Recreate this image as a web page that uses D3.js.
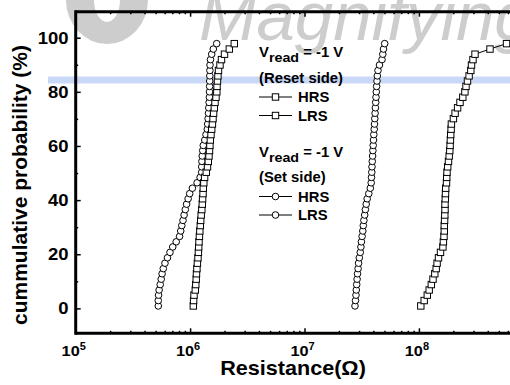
<!DOCTYPE html>
<html>
<head>
<meta charset="utf-8">
<script src="https://cdn.jsdelivr.net/npm/d3@7/dist/d3.min.js"></script>
<style>
  body { margin: 0; background: #fff; }
  svg { display: block; }
  text { font-family: "Liberation Sans", Arial, sans-serif; font-weight: bold; fill: #000; }
</style>
</head>
<body>
<div id="chart"></div>
<script>
// cumulative probability (%) of each ranked point, shared by all four series
const prob = [0.9, 2.9, 4.9, 6.8, 8.8, 10.8, 12.8, 14.7, 16.7, 18.7,
  20.7, 22.7, 24.6, 26.6, 28.6, 30.6, 32.5, 34.5, 36.5, 38.5,
  40.5, 42.4, 44.4, 46.4, 48.4, 50.3, 52.3, 54.3, 56.3, 58.3,
  60.2, 62.2, 64.2, 66.2, 68.1, 70.1, 72.1, 74.1, 76.1, 78.0,
  80.0, 82.0, 84.0, 85.9, 87.9, 89.9, 91.9, 93.9, 95.8, 97.8];

// resistance (ohm), read at -1 V
const setLRS = [0.527e6, 0.527e6, 0.530e6, 0.536e6, 0.548e6, 0.559e6, 0.569e6, 0.583e6, 0.603e6, 0.634e6,
  0.667e6, 0.705e6, 0.756e6, 0.809e6, 0.828e6, 0.846e6, 0.867e6, 0.886e6, 0.908e6, 0.932e6,
  0.961e6, 0.992e6, 1.047e6, 1.151e6, 1.223e6, 1.263e6, 1.263e6, 1.268e6, 1.276e6, 1.289e6,
  1.304e6, 1.344e6, 1.377e6, 1.414e6, 1.425e6, 1.437e6, 1.448e6, 1.457e6, 1.466e6, 1.475e6,
  1.478e6, 1.481e6, 1.484e6, 1.487e6, 1.490e6, 1.493e6, 1.508e6, 1.545e6, 1.595e6, 1.708e6];
const resetLRS = [1.067e6, 1.073e6, 1.082e6, 1.110e6, 1.121e6, 1.131e6, 1.137e6, 1.147e6, 1.158e6, 1.172e6,
  1.182e6, 1.189e6, 1.196e6, 1.206e6, 1.216e6, 1.228e6, 1.238e6, 1.250e6, 1.266e6, 1.278e6,
  1.286e6, 1.297e6, 1.304e6, 1.318e6, 1.339e6, 1.385e6, 1.419e6, 1.442e6, 1.463e6, 1.478e6,
  1.490e6, 1.502e6, 1.523e6, 1.545e6, 1.567e6, 1.586e6, 1.605e6, 1.628e6, 1.651e6, 1.684e6,
  1.712e6, 1.719e6, 1.735e6, 1.751e6, 1.771e6, 1.825e6, 1.881e6, 1.998e6, 2.202e6, 2.434e6];
const setHRS = [2.763e7, 2.791e7, 2.819e7, 2.836e7, 2.859e7, 2.882e7, 2.906e7, 2.941e7, 2.970e7, 3.013e7,
  3.074e7, 3.112e7, 3.143e7, 3.188e7, 3.233e7, 3.266e7, 3.305e7, 3.359e7, 3.406e7, 3.462e7,
  3.532e7, 3.648e7, 3.760e7, 3.828e7, 3.851e7, 3.874e7, 3.890e7, 3.913e7, 3.937e7, 3.961e7,
  3.985e7, 4.009e7, 4.034e7, 4.067e7, 4.091e7, 4.116e7, 4.141e7, 4.166e7, 4.192e7, 4.217e7,
  4.243e7, 4.268e7, 4.303e7, 4.330e7, 4.390e7, 4.523e7, 4.758e7, 4.835e7, 4.903e7, 5.023e7];
const resetHRS = [1.039e8, 1.112e8, 1.184e8, 1.230e8, 1.284e8, 1.328e8, 1.377e8, 1.416e8, 1.442e8, 1.484e8,
  1.545e8, 1.621e8, 1.637e8, 1.657e8, 1.667e8, 1.667e8, 1.677e8, 1.684e8, 1.691e8, 1.691e8,
  1.701e8, 1.708e8, 1.715e8, 1.743e8, 1.750e8, 1.760e8, 1.785e8, 1.814e8, 1.840e8, 1.862e8,
  1.874e8, 1.885e8, 1.897e8, 1.912e8, 1.923e8, 2.002e8, 2.072e8, 2.179e8, 2.287e8, 2.420e8,
  2.524e8, 2.580e8, 2.659e8, 2.747e8, 2.843e8, 2.883e8, 2.970e8, 3.094e8, 4.183e8, 5.832e8];

const xTicks = [1e5, 1e6, 1e7, 1e8, 1e9];
const xTickExp = ["5", "6", "7", "8", "9"];
const yTicks = [0, 20, 40, 60, 80, 100];
const yMinor = [10, 30, 50, 70, 90];

const legendReset = ["HRS", "LRS"];
const legendSet = ["HRS", "LRS"];

const width = 510, height = 385;

const svg = d3.select("#chart").append("svg")
  .attr("width", width)
  .attr("height", height);

svg.append("rect").attr("width", width).attr("height", height).attr("fill", "#fff");

const x = d3.scaleLog().domain([1e5, 1e9]).range([75.7, 533.3]);
const y = d3.scaleLinear().domain([-9.2, 109.6]).range([333.3, 11.7]);

// watermark (part of the source image)
const wm = svg.append("g");
wm.append("path")
  .attr("d", "M66,0 A41,44 0 0 0 148,0 Z M94,0 A13,22 0 0 0 120,0 Z")
  .attr("fill", "#cdcdcd")
  .attr("fill-rule", "evenodd");
wm.append("text")
  .attr("x", 199).attr("y", 40)
  .attr("font-size", 69)
  .style("font-weight", "normal")
  .style("font-style", "italic")
  .style("fill", "#cdcdcd")
  .text("Magnifying");
wm.append("rect")
  .attr("x", 48).attr("y", 76.5)
  .attr("width", width - 48).attr("height", 7)
  .attr("fill", "#c9d8f6");

function label(g, px, py, str, size, anchor, sx) {
  return g.append("text")
    .attr("transform", "translate(" + px + "," + py + ") scale(" + (sx || 1) + ",1)")
    .attr("font-size", size)
    .attr("text-anchor", anchor || "start")
    .text(str);
}

// minor ticks on log axis
const minors = [];
for (let d = 5; d < 9; d++) {
  for (let m = 2; m <= 9; m++) minors.push(m * Math.pow(10, d));
}

const axes = svg.append("g");

// bottom axis
axes.append("g")
  .attr("transform", "translate(0," + y.range()[0] + ")")
  .call(d3.axisBottom(x).tickValues(minors).tickSize(-2.5).tickFormat(""))
  .call(g => g.select(".domain").remove());
axes.append("g")
  .attr("transform", "translate(0," + y.range()[0] + ")")
  .call(d3.axisBottom(x).tickValues(xTicks).tickSize(-5).tickFormat(""))
  .call(g => g.select(".domain").remove());
// top axis
axes.append("g")
  .attr("transform", "translate(0," + y.range()[1] + ")")
  .call(d3.axisTop(x).tickValues(minors).tickSize(-2.5).tickFormat(""))
  .call(g => g.select(".domain").remove());
axes.append("g")
  .attr("transform", "translate(0," + y.range()[1] + ")")
  .call(d3.axisTop(x).tickValues(xTicks).tickSize(-5).tickFormat(""))
  .call(g => g.select(".domain").remove());
// left axis
axes.append("g")
  .attr("transform", "translate(" + x.range()[0] + ",0)")
  .call(d3.axisLeft(y).tickValues(yTicks).tickSize(-5).tickFormat(""))
  .call(g => g.select(".domain").remove());
axes.append("g")
  .attr("transform", "translate(" + x.range()[0] + ",0)")
  .call(d3.axisLeft(y).tickValues(yMinor).tickSize(-2.5).tickFormat(""))
  .call(g => g.select(".domain").remove());
axes.selectAll(".tick line").attr("stroke", "#000").attr("stroke-width", 1.5);

// frame lines
axes.append("line")
  .attr("x1", x.range()[0]).attr("x2", width + 5)
  .attr("y1", y.range()[0]).attr("y2", y.range()[0])
  .attr("stroke", "#000").attr("stroke-width", 3);
axes.append("line")
  .attr("x1", x.range()[0]).attr("x2", width + 5)
  .attr("y1", y.range()[1]).attr("y2", y.range()[1])
  .attr("stroke", "#000").attr("stroke-width", 3);
axes.append("line")
  .attr("x1", x.range()[0]).attr("x2", x.range()[0])
  .attr("y1", y.range()[1] - 1.5).attr("y2", y.range()[0] + 1.5)
  .attr("stroke", "#000").attr("stroke-width", 3);

// tick labels
xTicks.forEach((v, i) => {
  if (x(v) > width) return;
  const t = label(svg, x(v) - 2, 356, "10", 15.5, "middle", 1.05);
  t.append("tspan").attr("dy", -6).attr("font-size", 10.5).text(xTickExp[i]);
});
yTicks.forEach(v => {
  label(svg, 68.5, y(v) + 6, String(v), 16.5, "end", 1.12);
});

// axis titles
label(svg, 293, 375, "Resistance(\u03A9)", 20, "middle", 1.08);
svg.append("text")
  .attr("transform", "translate(27,185) rotate(-90)")
  .attr("font-size", 21)
  .attr("text-anchor", "middle")
  .text("cummulative probability (%)");

// data
const series = [
  { data: setLRS, shape: "circle" },
  { data: resetLRS, shape: "square" },
  { data: setHRS, shape: "circle" },
  { data: resetHRS, shape: "square" }
];

const line = d3.line()
  .x(d => x(d[0]))
  .y(d => y(d[1]));

const plot = svg.append("g");
series.forEach(s => {
  const pts = s.data.map((r, i) => [r, prob[i]]);
  plot.append("path")
    .attr("d", line(pts))
    .attr("fill", "none")
    .attr("stroke", "#000")
    .attr("stroke-width", 1);
  const g = plot.append("g");
  if (s.shape === "circle") {
    g.selectAll("circle").data(pts).enter().append("circle")
      .attr("cx", d => x(d[0]))
      .attr("cy", d => y(d[1]))
      .attr("r", 3.3)
      .attr("fill", "#fff")
      .attr("stroke", "#000")
      .attr("stroke-width", 1);
  } else {
    g.selectAll("rect").data(pts).enter().append("rect")
      .attr("x", d => x(d[0]) - 3.2)
      .attr("y", d => y(d[1]) - 3.2)
      .attr("width", 6.4)
      .attr("height", 6.4)
      .attr("fill", "#fff")
      .attr("stroke", "#000")
      .attr("stroke-width", 1);
  }
});

// legend
const leg = svg.append("g");
function vread(py) {
  const t = label(leg, 259, py, "V", 14, "start", 1.06);
  t.append("tspan").attr("dy", 5).attr("font-size", 13.5).text("read");
  t.append("tspan").attr("dy", -5).text(" = -1 V");
}
function entry(py, name, shape) {
  leg.append("line")
    .attr("x1", 259).attr("x2", 292)
    .attr("y1", py).attr("y2", py)
    .attr("stroke", "#000").attr("stroke-width", 1);
  if (shape === "circle") {
    leg.append("circle").attr("cx", 275.5).attr("cy", py).attr("r", 3.3)
      .attr("fill", "#fff").attr("stroke", "#000");
  } else {
    leg.append("rect").attr("x", 272.3).attr("y", py - 3.2)
      .attr("width", 6.4).attr("height", 6.4)
      .attr("fill", "#fff").attr("stroke", "#000");
  }
  label(leg, 298, py + 5, name, 14, "start", 1.06);
}
vread(56.5);
label(leg, 259, 83, "(Reset side)", 14, "start", 1.06);
legendReset.forEach((n, i) => entry(97 + i * 18.5, n, "square"));
vread(156.5);
label(leg, 259, 182, "(Set side)", 14, "start", 1.06);
legendSet.forEach((n, i) => entry(196.5 + i * 18.5, n, "circle"));
</script>
</body>
</html>
